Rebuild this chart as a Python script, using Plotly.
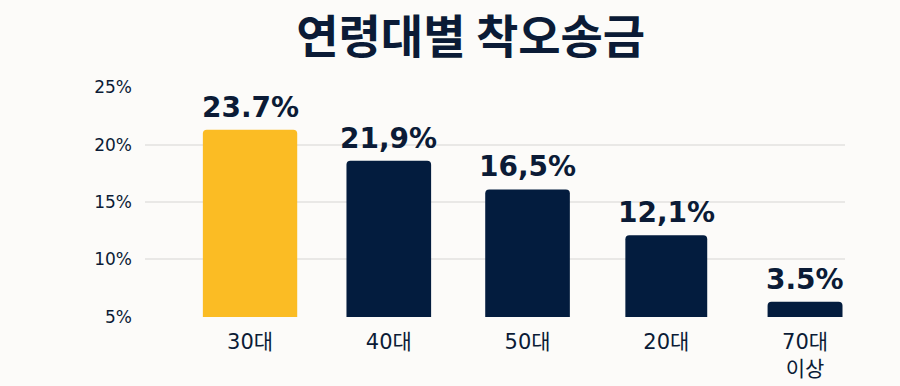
import plotly.graph_objects as go

categories = ["30대", "40대", "50대", "20대", "70대<br>이상"]
bar_values = [21.3, 18.6, 16.1, 12.1, 6.3]
value_labels = ["23.7%", "21,9%", "16,5%", "12,1%", "3.5%"]
bar_colors = ["#FBBC24", "#031C3E", "#031C3E", "#031C3E", "#031C3E"]
bar_widths = [0.68, 0.61, 0.61, 0.59, 0.54]
y_ticks = [5, 10, 15, 20, 25]
y_tick_labels = ["5%", "10%", "15%", "20%", "25%"]

NAVY = "#0B1B36"
FONT = "'DejaVu Sans', 'Noto Sans CJK KR', sans-serif"

x_idx = list(range(len(categories)))

fig = go.Figure()
fig.add_trace(go.Bar(
    x=x_idx, y=bar_values, width=bar_widths,
    marker=dict(color=bar_colors, line=dict(width=0)),
    hoverinfo="skip",
))

for i, (v, t) in enumerate(zip(bar_values, value_labels)):
    fig.add_annotation(x=i, y=v, text=t, showarrow=False, yanchor="bottom",
                       yshift=4, font=dict(family=FONT, size=28, color=NAVY, weight="bold"))

fig.update_layout(
    width=900, height=386,
    margin=dict(l=145, r=55, t=87, b=69),
    paper_bgcolor="#FCFBF9", plot_bgcolor="#FCFBF9",
    barcornerradius=4,
    showlegend=False,
    title=dict(text="연령대별 착오송금", x=0.523, xanchor="center", y=0.905, yanchor="middle",
               font=dict(family="'Noto Sans CJK KR', sans-serif", size=46, color=NAVY, weight="bold")),
    xaxis=dict(range=[-0.757, 4.288], tickmode="array", tickvals=x_idx, ticktext=categories,
               showgrid=False, zeroline=False, showline=False, ticks="", automargin=False,
               tickfont=dict(family=FONT, size=21, color=NAVY), ticklabelstandoff=10),
    yaxis=dict(range=[4.98, 25.02], tickmode="array", tickvals=y_ticks, ticktext=y_tick_labels,
               showgrid=True, gridcolor="#E9E8E6", gridwidth=1.5, zeroline=False, showline=False,
               ticks="", automargin=False,
               tickfont=dict(family=FONT, size=17, color=NAVY), ticklabelstandoff=12),
)

fig.write_html("out.html", config={"displayModeBar": False},
               post_script="document.body.style.margin='0';document.body.style.background='#FCFBF9';")
